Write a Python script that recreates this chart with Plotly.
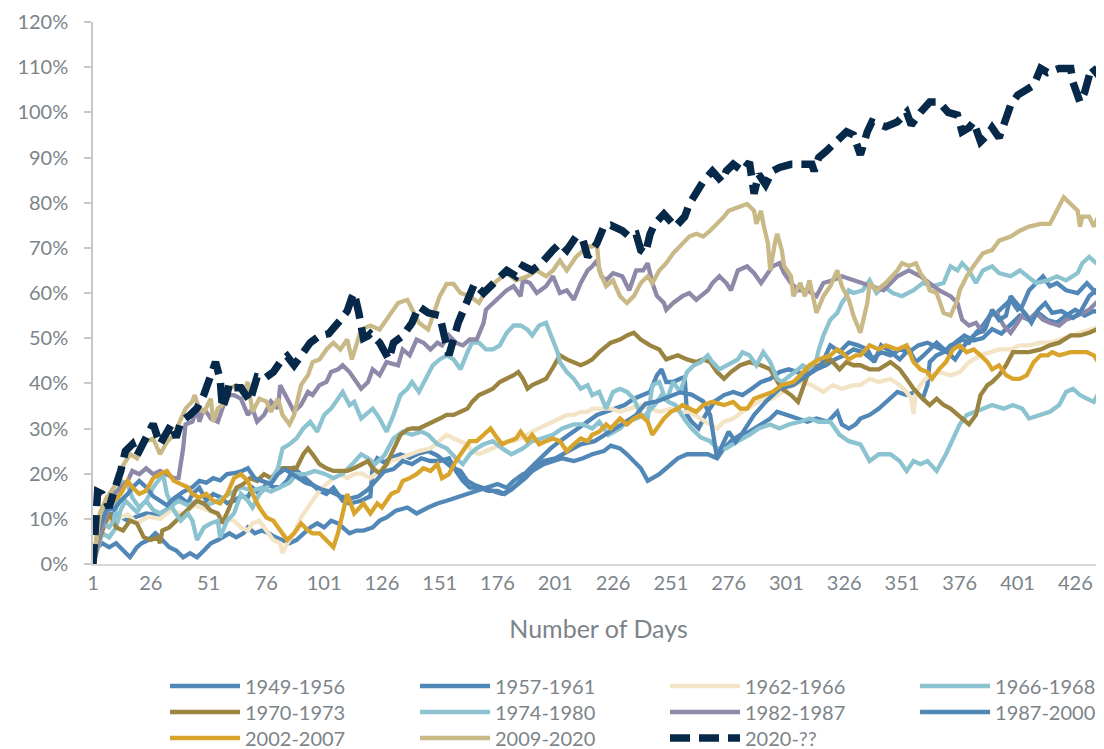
import plotly.graph_objects as go

# ---- data: (trading day, cumulative return %) ----
s1949 = [(1,0),(3,3.7),(5,4.6),(8,3.7),(11,4.6),(14,3),(17,1.5),(20,3.7),(22,4.6),(25,5.3),(28,6.8),(31,5.3),(34,3.7),(37,3),(40,1.5),(43,2.4),(46,1.5),(49,3),(52,4.6),(55,5.3),(57,5.9),(60,6.8),(63,5.9),(66,6.8),(68,8.1),(71,6.8),(74,7.4),(77,6.8),(80,5.9),(83,5.3),(86,4.6),(89,5.3),(92,6.8),(95,8.1),(98,9),(101,8.1),(104,9.6),(107,9),(109,8.1),(112,6.8),(115,7.4),(118,7.4),(122,8.1),(125,9.6),(128,10.3),(132,11.8),(137,12.5),(141,11.2),(146,12.5),(150,13.4),(154,14),(158,14.7),(163,15.5),(167,16.2),(171,16.9),(176,17.7),(180,16.9),(183,18.4),(187,19.9),(191,20.6),(196,22.1),(200,22.8),(204,23.4),(209,22.8),(213,23.4),(217,24.3),(222,25),(225,26.2),(229,25.6),(232,24.3),(235,22.8),(238,21.2),(241,18.4),(243,19),(246,19.9),(249,21.2),(254,23.4),(258,24.3),(262,24.3),(267,24.3),(271,23.4),(274,25.6),(277,27.2),(281,28.6),(285,29.3),(290,30.9),(294,32.2),(297,33.7),(301,33),(306,32.2),(310,31.5),(314,32.2),(319,31.5),(323,33.7),(325,30.9),(328,30),(331,30.9),(333,32.2),(337,33),(341,34.4),(346,36.6),(349,38.1),(353,37.4),(357,38.1),(360,36.6),(362,39.6),(363,44.7),(366,46.2),(369,46.9),(372,48.4),(375,49),(377,49.7),(380,49),(383,51.2),(386,52.8),(389,55),(392,55.6),(395,57.1),(398,58.5),(401,56.3),(403,57.1),(406,60.6),(409,62.2),(412,63.7),(415,61.5),(418,62.2),(422,60.6),(427,60),(431,62.2),(435,60),(438,59.3)]

s1957 = [(1,0),(3,6.8),(5,9),(7,11.2),(11,11),(16,9.6),(20,10.5),(24,11.2),(29,10.8),(33,11.8),(36,14),(39,14.7),(42,13.4),(44,15.5),(47,16.9),(50,14),(53,15.5),(56,14.8),(59,13.5),(62,14),(65,15),(68,14.8),(70,16.9),(73,15.5),(76,17.7),(79,17),(82,17),(85,18.4),(88,21.2),(91,19.9),(94,18.4),(96,17.7),(99,16.2),(102,15.5),(105,16.9),(109,14),(112,13.4),(117,14),(120,14.7),(121,15),(122,21.5),(124,23.4),(127,22.5),(130,23.5),(134,24.3),(138,23.5),(142,24.5),(146,25),(150,24),(153,22.8),(156,21.5),(160,20.6),(163,18.4),(166,17.5),(170,16.9),(174,16.2),(178,15.5),(182,16.5),(186,18.4),(189,20.6),(192,22.1),(196,24.3),(199,25.6),(203,27.2),(207,28.6),(211,30),(215,31.5),(219,33),(223,33.7),(227,34.4),(231,35.2),(235,36.6),(239,37.4),(242,38.1),(245,41.8),(247,43.1),(249,40.3),(252,40.3),(255,41),(257,41.4),(258,33),(260,31.5),(263,30),(266,33),(270,36),(274,37.4),(278,38.1),(282,37.4),(286,38.8),(290,40.3),(294,41),(298,42.5),(302,43.1),(306,42.5),(310,41.8),(314,43.1),(318,44),(322,45.3),(326,46.2),(330,47.5),(334,46.9),(338,45.3),(342,46.9),(346,46.2),(350,47.5),(354,46.9),(358,48.4),(362,49),(366,48),(370,47),(374,49),(378,50.6),(382,49.5),(386,50),(390,52),(394,51),(398,53),(402,55),(406,54),(410,55.6),(414,54),(418,53.4),(422,55),(426,56.3),(430,55),(434,56),(438,55.6)]

s1962 = [(1,0),(3,4.6),(5,8.1),(8,9.6),(12,10),(16,11),(20,9),(25,10.5),(30,10),(35,12),(40,11),(45,13),(50,12),(55,11),(58,10),(62,9.6),(65,8.1),(68,7.4),(70,9),(73,9.6),(76,7.4),(79,5.3),(82,4.6),(83,2.4),(85,4.6),(88,6.8),(91,10.3),(94,12.5),(96,14),(99,16.2),(102,17.7),(105,19),(108,19.9),(111,19),(114,19.9),(117,20.1),(121,19),(125,20.6),(130,22.8),(134,23.4),(138,24.3),(142,25),(147,25.6),(151,27.2),(154,28.6),(157,27.8),(160,27.2),(163,26.5),(165,25),(168,24.3),(171,25),(174,25.6),(177,26.5),(180,27.2),(183,27.2),(186,27.8),(189,28.6),(191,29.3),(194,30),(197,30.9),(200,31.5),(203,32.2),(206,33),(209,33),(212,33.7),(215,33.7),(217,34.4),(220,34.4),(225,34.4),(229,33.7),(233,34.4),(238,35.2),(242,34.4),(246,33.7),(251,34.4),(255,33.7),(259,33.7),(264,32.2),(268,30.9),(271,30),(274,31.5),(278,32.2),(282,33.7),(287,35.2),(291,36.6),(295,36.6),(299,38.1),(304,39.6),(308,40.3),(312,39.6),(317,38.1),(321,39.6),(325,38.8),(330,39.6),(333,39.6),(337,41),(341,40.3),(346,41),(350,39.6),(353,38.1),(355,36.6),(356,33.2),(357,38.1),(360,40.3),(363,41.8),(367,42.5),(372,41.8),(376,42.5),(380,44.7),(385,46.2),(389,46.9),(393,47.5),(398,47.5),(402,48.4),(406,48.4),(411,49),(415,49),(419,49.7),(424,50.6),(428,51.2),(432,51.9),(438,52.8)]

s1966 = [(1,0),(3,3.7),(5,6.8),(8,5.9),(11,8.1),(13,12),(15,14),(17,13),(20,11.5),(22,13),(24,14),(27,12),(30,11.2),(34,12.5),(38,14),(42,13),(46,14),(50,13),(55,14),(60,15.5),(65,17),(70,16.2),(74,16.9),(78,16),(82,17),(86,18),(89,19.9),(93,19.9),(97,20.6),(101,20),(105,19),(109,20),(113,22),(117,24.3),(120,23.4),(123,22.1),(127,24),(131,27.8),(135,29.3),(139,28.6),(143,29.3),(146,28.6),(150,26.5),(154,25.6),(158,23.4),(161,22.1),(164,24.3),(167,25.6),(170,26.5),(174,27.2),(178,25.6),(182,24.3),(187,25.6),(191,27.2),(195,27.8),(200,28.6),(204,30),(209,30.9),(213,30.9),(217,30),(220,31.5),(224,28.6),(229,30),(232,31.5),(236,32.2),(240,33),(244,35.2),(247,37.4),(250,35.9),(253,35.2),(257,32),(260,30),(264,28),(268,27.2),(271,25.6),(275,25.6),(280,27.2),(285,28.6),(289,30),(294,30.9),(298,30),(302,30.9),(307,31.5),(311,32.2),(315,31.5),(320,31.5),(324,28.6),(328,27.2),(333,26.5),(337,22.8),(341,24.3),(346,24.3),(350,22.8),(353,20.6),(356,22.8),(359,22.1),(362,22.8),(366,20.6),(370,24.3),(373,27.8),(376,30.9),(379,33),(382,33.7),(386,34.4),(390,35.2),(395,34.4),(399,35.2),(403,34.4),(406,32.2),(411,33),(415,33.7),(419,35.2),(422,38.1),(425,38.8),(428,37.4),(431,36.6),(434,35.9),(437,38.8),(438,39.6)]

s1970 = [(1,0),(4,6),(8,11.2),(11,8.1),(14,7.4),(17,9.6),(20,9),(23,5.9),(26,5.3),(29,5.9),(30,4.6),(31,7.4),(34,8.1),(37,9.6),(40,11.2),(43,12.5),(46,14),(49,13.4),(52,11.8),(55,11.2),(57,9),(60,12.5),(63,16.9),(66,17.7),(69,19),(72,18.4),(75,19.9),(78,19),(81,20.6),(83,21.2),(86,21.2),(89,21.2),(92,24.3),(94,25.6),(96,24.3),(99,22.1),(102,21.2),(105,20.6),(108,20.6),(111,20.6),(114,21.2),(117,22.1),(120,22.8),(122,21.2),(125,20.1),(128,22.1),(131,25.6),(134,28.6),(137,29.8),(139,30),(142,30),(146,30.9),(148,31.5),(151,32.2),(154,33),(157,33),(160,33.7),(163,34.4),(165,35.9),(168,37.4),(171,38.1),(174,38.8),(177,40.3),(180,41),(183,41.8),(185,42.5),(187,41),(189,38.8),(191,39.6),(194,40.3),(197,41),(200,43.5),(203,46.2),(206,45.3),(209,44.7),(212,44),(215,44.7),(217,45.3),(220,46.9),(225,49),(229,49.7),(232,50.6),(235,51.2),(238,49.7),(242,48.4),(246,47.5),(249,45.3),(254,46.2),(258,45.3),(262,44.7),(265,45.3),(268,44.7),(271,42.5),(274,41),(277,42.5),(281,44),(285,44.7),(290,44),(294,43.1),(297,40.3),(299,38.8),(303,37.4),(306,35.9),(308,38.8),(311,43.1),(315,44),(320,45.3),(324,43.1),(327,44.7),(330,44),(333,44),(337,43.1),(341,43.1),(346,44.7),(350,43.1),(353,41),(356,38.8),(360,36.6),(363,35.2),(366,36.6),(369,35.2),(372,34.4),(375,33),(377,32.2),(380,30.9),(383,33),(385,37.4),(388,39.6),(390,40.3),(393,41.8),(396,44),(399,46.9),(402,46.9),(406,46.9),(411,47.5),(415,48.4),(419,49),(424,50.6),(428,50.6),(432,51.2),(435,51.9),(438,52.8)]

s1974 = [(1,0),(3,5.3),(5,9),(8,8.1),(10,9.6),(13,18.4),(16,17.7),(18,14.7),(21,12.5),(24,14),(27,16.9),(30,19),(31,20.6),(33,15.5),(36,11.8),(39,9.6),(42,11.2),(44,9.6),(46,5.3),(49,8.1),(52,9),(55,9.6),(56,5.9),(59,9.6),(62,11.2),(65,15.5),(68,14),(70,12.5),(73,15.5),(76,16.9),(78,18.4),(81,21.2),(83,25.6),(86,26.5),(89,27.8),(92,30),(95,31.5),(98,29.3),(101,33),(104,34.4),(107,36.6),(109,38.1),(112,35.2),(114,35.9),(117,32.2),(120,33.7),(122,34.4),(125,32.2),(128,29.3),(131,33),(134,37.4),(137,38.8),(139,40.3),(142,38.1),(146,41.8),(148,44),(151,45.3),(154,46.2),(157,45.3),(160,43.1),(163,46.9),(165,49),(168,49),(171,47.5),(174,47.5),(177,48.4),(180,51.2),(183,52.8),(186,52.8),(189,51.9),(191,50.6),(194,52.8),(197,53.4),(199,50.6),(202,46.9),(203,44.7),(206,42.5),(209,41),(212,38.8),(215,39.6),(217,37.4),(220,38.1),(223,34.4),(226,38.1),(229,38.8),(232,38.1),(235,36.6),(238,33),(241,32.2),(243,39.6),(246,40.3),(249,36),(252,40.3),(255,38.1),(258,42.5),(261,44),(264,44.7),(267,46.2),(269,44.7),(272,43.1),(275,44),(280,45.3),(282,46.9),(285,46.2),(288,44),(291,46.9),(294,44.7),(297,41),(299,40.3),(303,41.8),(306,43.1),(308,44),(311,43.1),(314,45.3),(315,47.5),(317,50.6),(319,52.8),(320,54.1),(323,55.6),(325,57.8),(327,59.3),(328,60.6),(330,60),(334,60.6),(337,62.8),(340,60),(343,61.5),(347,60),(351,59.3),(356,60.6),(360,62.2),(364,61.5),(369,62.2),(372,65.9),(375,65),(377,66.6),(380,65),(383,62.2),(386,65),(390,65.9),(393,64.4),(398,63.7),(402,65),(405,63.7),(409,62.2),(414,62.8),(418,63.7),(422,62.8),(427,64.4),(429,66.6),(432,68),(435,66.6),(438,66.6)]

s1982 = [(1,0),(4,6.8),(7,11),(10,15.5),(13,17),(16,18.4),(18,20.6),(21,19.9),(24,21.2),(27,19.9),(30,20.6),(33,19.9),(36,19),(38,19),(40,25.6),(41,30.9),(44,31.5),(46,34.4),(47,31.5),(49,34.4),(52,32.2),(55,31.5),(57,34.4),(59,37.4),(62,37.4),(65,36.6),(68,33),(70,34.4),(72,31.5),(75,33),(78,36),(81,34.4),(82,39.6),(85,36.6),(88,33.7),(91,35.2),(94,38.1),(96,37.4),(99,39.6),(102,40.3),(104,42.5),(107,43.1),(109,44),(112,42.5),(115,40.3),(117,38.8),(120,40.3),(122,43.1),(125,41.8),(128,44.7),(133,44),(135,47.5),(138,46.2),(141,49.7),(144,49),(147,47.5),(150,49),(152,48.4),(155,50.6),(158,49),(161,48.4),(164,49.7),(167,49.7),(170,53.4),(171,56.3),(174,57.8),(177,59.3),(180,60.6),(183,61.5),(186,59.3),(187,62.8),(190,62.2),(193,60),(197,61.5),(200,63.7),(203,60),(206,60.6),(209,58.5),(212,62.2),(215,65),(217,65.9),(219,67.2),(221,63.7),(223,62.8),(226,64.4),(230,63.7),(233,60.6),(236,65),(239,65),(241,66.6),(243,62.2),(245,59.3),(248,57.8),(249,56.3),(252,57.8),(256,59.3),(259,60),(262,58.5),(267,60.6),(269,62.2),(272,63.7),(275,62.2),(277,60.6),(280,65),(284,65.9),(287,64.4),(290,62.2),(293,64.4),(295,65.9),(298,66.6),(300,64.4),(303,62.2),(306,60.6),(310,60.6),(314,59.3),(317,62.2),(321,62.8),(325,63.7),(330,62.8),(334,62.2),(337,61.5),(343,60.6),(349,63.7),(354,65),(359,63.7),(363,62.2),(367,60.6),(372,59.3),(375,57.8),(377,54.1),(380,52.8),(383,53.4),(386,51.2),(389,55),(392,55.6),(395,52.8),(398,51.2),(401,53.4),(403,55),(406,54.1),(409,55.6),(412,54.1),(415,53.4),(419,52.8),(422,54.1),(427,55),(429,55.6),(432,56.3),(435,57.8),(438,57.1)]

s1987 = [(1,0),(3,7),(5,9.6),(7,12.5),(10,12),(13,14),(16,15.5),(18,16.9),(21,18.4),(24,17),(27,15),(30,14),(33,13),(36,14.5),(40,16),(44,17),(47,18.4),(50,18),(53,19),(56,18.5),(59,19.9),(62,20.1),(65,20.5),(68,21.2),(71,19),(74,18.4),(78,17.7),(81,19.9),(84,21),(87,20),(90,19),(93,18),(96,17.5),(100,16.5),(104,16),(108,15),(112,14.5),(116,15),(120,16.5),(124,19),(127,20.5),(131,21),(135,22.8),(139,22.1),(143,23.4),(147,22.8),(151,22.8),(155,23.4),(158,20.6),(161,18.4),(164,16.9),(168,16.9),(172,16.2),(176,16.2),(179,15.5),(182,16.5),(185,17.7),(188,19),(191,20.6),(196,22.8),(201,23.4),(207,25),(212,26.5),(218,27.2),(224,29),(230,31),(236,33),(240,35.5),(245,36),(250,37),(255,38),(260,37.5),(265,36),(268,33),(271,23.4),(273,26),(276,29.3),(279,27),(282,29),(287,33),(292,35.9),(298,38.8),(304,39.6),(310,41.8),(316,44),(320,48.4),(324,47),(328,49),(332,48.4),(336,47.5),(339,44.7),(342,48.4),(346,47),(350,45.3),(354,47.5),(357,44.7),(360,46),(366,49),(370,47),(374,45.3),(378,48.4),(382,50.6),(387,52),(390,56.3),(393,54),(396,55),(398,59.3),(402,57),(405,55),(407,53.4),(410,56.3),(413,57.8),(416,55.6),(420,56),(425,54.5),(428,55.6),(432,59.3),(435,60.6),(438,60)]

s2002 = [(1,0),(4,11.2),(7,14.7),(10,14),(13,15.5),(16,18.4),(18,17),(21,15.5),(24,16.2),(27,19),(30,19.9),(33,20.6),(36,18.4),(39,17.7),(42,17),(44,15.5),(47,14.7),(50,15.5),(53,14),(56,13.4),(59,15.5),(62,19),(65,19.9),(68,18.4),(70,15.5),(73,12.5),(76,10.3),(79,9.6),(82,7.4),(85,5.3),(88,6.8),(91,9),(94,7.4),(96,6.8),(99,6.8),(102,5.3),(105,3.7),(107,6.8),(109,11.2),(111,15.5),(114,11.2),(115,11.8),(118,13.4),(121,11.2),(124,13.4),(126,12.5),(130,15.5),(133,16.2),(135,18.4),(138,19),(141,19.9),(144,21.2),(147,20.6),(150,22.1),(152,19),(155,19.9),(158,22.8),(161,25),(164,27.2),(167,27.2),(170,28.6),(173,30),(176,27.8),(178,26.5),(181,27.2),(184,27.8),(186,29.3),(189,27.2),(191,28.6),(194,26.5),(197,27.2),(200,27.8),(203,27.2),(206,25),(209,26.5),(212,27.8),(215,27.2),(217,28.6),(220,29.3),(223,30.9),(225,30),(229,32.2),(232,30.9),(235,32.2),(238,33),(241,31.5),(243,28.6),(245,30),(248,32.2),(251,33.7),(254,34.4),(256,35.2),(259,34.4),(262,33.7),(265,35.2),(269,35.9),(274,35.2),(278,35.9),(281,34.4),(284,34.4),(287,36.6),(291,37.4),(295,38.1),(299,39.6),(304,40.3),(307,41.8),(311,44),(315,45.3),(320,46.2),(323,47.5),(325,46.9),(328,45.3),(331,46.2),(333,46.2),(337,48.4),(341,47.5),(344,48.4),(349,47.5),(353,48.4),(356,44.7),(359,43.1),(362,42.5),(364,41),(367,43.1),(370,44.7),(373,47.5),(376,48.4),(379,46.9),(382,47.5),(385,46.2),(388,44.7),(390,43.1),(393,44),(396,41.8),(399,41),(402,41),(405,41.8),(408,44.7),(411,46.2),(414,46.2),(416,46.9),(419,46.2),(424,46.9),(428,46.9),(431,46.9),(434,46.2),(437,44),(438,43.1)]

s2009 = [(1,0),(3,6.8),(4,11),(8,15.5),(11,17.7),(13,21),(15,22.7),(17,24.3),(20,23.4),(23,27),(27,27.8),(30,24.3),(33,27),(36,28.6),(39,32),(41,34.4),(44,36),(45,37.4),(47,34.4),(49,33.7),(52,36.6),(53,31.5),(55,34.4),(57,35.2),(60,38.8),(63,39.6),(66,38),(68,40.3),(70,33.7),(73,36.6),(76,36),(78,33.7),(81,36.6),(83,33),(86,30.9),(88,33),(91,39.6),(94,41.8),(96,44.7),(99,45.3),(102,47.5),(105,49),(108,47.5),(111,49.7),(113,45.3),(115,48.4),(117,51.9),(121,52.8),(125,51.9),(130,55.6),(133,57.8),(137,58.5),(139,56.3),(142,53.4),(146,51.9),(148,55),(151,59.3),(154,62),(157,62),(160,60),(164,59.3),(168,57.8),(171,60.6),(176,62.8),(180,64.4),(184,62.8),(189,63.7),(193,65),(197,63.7),(200,65),(203,67.2),(206,65),(210,68),(215,70.3),(217,70.3),(219,71),(220,65),(223,61.5),(226,62.8),(229,59.3),(232,57.8),(235,59.3),(238,62.2),(241,63.7),(243,62.2),(246,65),(249,66.6),(252,68.8),(256,71),(259,72.5),(262,73.1),(265,72.5),(268,73.8),(271,75.3),(274,76.9),(276,78.2),(280,79),(284,79.7),(287,78.2),(288,75.3),(290,78.2),(291,75.3),(293,71),(294,65),(296,71),(297,73.1),(299,69.5),(300,66),(303,63.7),(304,59.3),(307,62.2),(309,59.3),(311,62.8),(313,58.5),(314,55.6),(317,59.3),(320,61.5),(323,65),(325,61.5),(328,58.5),(330,55),(333,51.2),(334,53.4),(336,57.8),(337,62.2),(340,60.6),(344,62.2),(349,65),(351,66.6),(354,66),(357,66.6),(359,64.4),(362,62.2),(363,60.6),(366,60),(369,55.6),(372,55),(375,58.5),(376,60.6),(379,63.7),(382,66),(386,68.8),(390,69.5),(393,71.6),(398,72.5),(402,73.8),(406,74.7),(411,75.3),(415,75.3),(418,78.2),(421,81.2),(424,79.7),(427,78.2),(428,74.7),(429,76.9),(432,76.9),(434,74.7),(437,78.2),(438,81.2)]

s2020 = [(1,0),(2,9.6),(3,16),(5,15.5),(8,12.5),(10,16),(13,20.6),(15,25),(18,26.5),(20,24),(24,28),(27,31),(30,26.5),(33,29),(35,31),(37,28),(39,31.5),(43,33),(46,34.5),(49,37.5),(52,42.5),(54,44.7),(56,41),(57,34.5),(59,37.5),(60,40),(62,39),(65,39),(67,37.5),(69,36),(70,38),(72,41.4),(75,41),(79,42.5),(82,44.7),(85,46),(88,44),(92,47),(95,49),(99,50.5),(103,51),(108,54),(111,56),(113,59),(114,60),(116,55.6),(117,53.5),(118,50),(120,50.5),(121,51),(125,49),(129,45.3),(131,49),(135,50.5),(139,53.4),(142,57),(146,55.6),(151,55),(153,50.5),(155,46.2),(159,53.4),(163,57.8),(166,62),(170,60),(172,61),(176,63),(180,65),(184,63.7),(187,66),(191,65),(195,66.6),(200,69.5),(203,71),(206,69.5),(210,72.5),(213,71.6),(215,68),(217,69.5),(219,71),(222,74.7),(225,75),(230,73.8),(233,72.5),(236,73),(238,69.5),(240,68.8),(242,73),(244,75.3),(248,77.5),(253,74.7),(257,76.9),(259,79.7),(262,82.5),(265,84.7),(269,87),(273,84.7),(275,87),(278,88.5),(282,87),(285,89),(287,82),(289,86.3),(292,84),(295,87),(298,87.8),(303,88.5),(307,88.5),(312,88.5),(313,87),(315,90),(318,91.3),(323,93.5),(327,95.7),(330,95),(333,90.6),(336,95.7),(338,97.9),(344,96.8),(349,97.9),(353,100),(355,97.2),(359,100),(363,102.3),(367,102.3),(371,100),(375,99.4),(377,95.7),(380,96.6),(382,97.9),(385,93.5),(388,95),(390,96.6),(393,94.4),(395,97.2),(398,101.6),(401,103.8),(405,105.3),(408,106),(411,109.7),(414,108.8),(419,109.7),(424,109.7),(425,106.6),(428,102.3),(430,104.4),(433,110),(436,108.2),(438,107.5)]

series_names = ["1949-1956", "1957-1961", "1962-1966", "1966-1968", "1970-1973", "1974-1980",
                "1982-1987", "1987-2000", "2002-2007", "2009-2020", "2020-??"]
series_data = [s1949, s1957, s1962, s1966, s1970, s1974, s1982, s1987, s2002, s2009, s2020]
series_colors = ["#5288B8", "#4F86B6", "#F3E4C6", "#8CC3D0", "#9A8440", "#8CC3D0",
                 "#8E88A9", "#4F86B6", "#D9A42C", "#C9B987", "#06294A"]
legend_rows = ["legend", "legend", "legend", "legend",
               "legend2", "legend2", "legend2", "legend2",
               "legend3", "legend3", "legend3"]

x_tick_vals = [1, 26, 51, 76, 101, 126, 151, 176, 201, 226, 251, 276, 301, 326, 351, 376, 401, 426]
y_tick_vals = [0, 10, 20, 30, 40, 50, 60, 70, 80, 90, 100, 110, 120]

FONT = "Source Sans Pro, Lato, Open Sans, sans-serif"
GREY = "#7c8489"

fig = go.Figure()
for name, data, color, lg in zip(series_names, series_data, series_colors, legend_rows):
    xs = [p[0] for p in data]
    ys = [p[1] for p in data]
    is_current = name == "2020-??"
    fig.add_trace(go.Scatter(
        x=xs, y=ys, mode="lines", name=name, legend=lg,
        line=dict(color=color, width=7.5 if is_current else 4.3,
                  dash="20px,9px" if is_current else "solid"),
        hoverinfo="x+y+name",
    ))

legend_common = dict(orientation="h", x=0.0712, xanchor="left", yanchor="middle",
                     font=dict(size=20, color=GREY), itemwidth=70,
                     entrywidthmode="fraction", entrywidth=0.2473,
                     tracegroupgap=0, traceorder="normal", bgcolor="rgba(0,0,0,0)")

# page has an 8px body margin, so the figure is sized 8px smaller on each axis
PLOT_H = 741 - 14 - 185
fig.update_layout(
    width=1096, height=741, autosize=False,
    margin=dict(l=85, r=0, t=14, b=185, autoexpand=False),
    paper_bgcolor="white", plot_bgcolor="white",
    font=dict(family=FONT, color=GREY, size=20),
    showlegend=True,
    legend=dict(legend_common, y=-122 / PLOT_H),
    legend2=dict(legend_common, y=-148 / PLOT_H),
    legend3=dict(legend_common, y=-174 / PLOT_H),
)
fig.update_xaxes(
    range=[1, 438.4], tickmode="array", tickvals=x_tick_vals,
    ticktext=[str(v) for v in x_tick_vals],
    showline=True, linecolor="#D9D9D9", linewidth=2, ticks="",
    showgrid=False, zeroline=False, tickfont=dict(size=20, color=GREY),
    title=dict(text="Number of Days", font=dict(size=25, color=GREY), standoff=27),
    automargin=False, ticklabeloverflow="allow",
)
fig.update_yaxes(
    range=[0, 120], tickmode="array", tickvals=y_tick_vals,
    ticktext=[f"{v}%" for v in y_tick_vals],
    showline=True, linecolor="#C8C8C8", linewidth=1.5,
    ticks="outside", ticklen=7, tickcolor="#C8C8C8", tickwidth=1.5,
    showgrid=False, zeroline=False, tickfont=dict(size=20, color=GREY),
    ticklabelstandoff=12, automargin=False, ticklabeloverflow="allow",
)

fig.write_html("out.html")
